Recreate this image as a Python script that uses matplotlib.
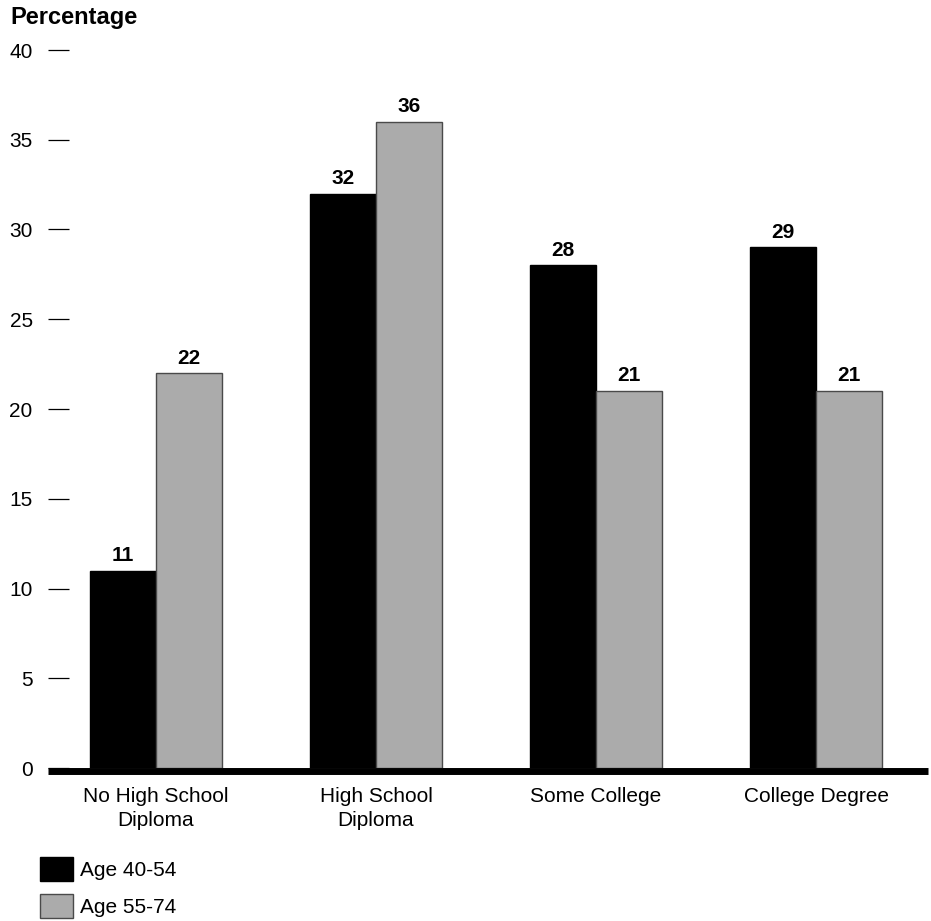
import numpy as np
import matplotlib
matplotlib.use('Agg')
import matplotlib.pyplot as plt
from matplotlib.patches import Patch

plt.rcParams['font.family'] = ['Liberation Sans', 'DejaVu Sans']

categories = ['No High School\nDiploma', 'High School\nDiploma', 'Some College', 'College Degree']
age_40_54 = [11, 32, 28, 29]
age_55_74 = [22, 36, 21, 21]
series_names = ['Age 40-54', 'Age 55-74']
yticks = [0, 5, 10, 15, 20, 25, 30, 35, 40]

W, H = 931, 921
fig = plt.figure(figsize=(W / 100, H / 100), dpi=100)
ax = fig.add_axes([48 / W, (H - 768) / H, (928 - 48) / W, (768 - 50) / H])

x = np.arange(len(categories))
bw = 0.3
b1 = ax.bar(x - bw / 2, age_40_54, bw, color='black', edgecolor='black', linewidth=1)
b2 = ax.bar(x + bw / 2, age_55_74, bw, color='#ababab', edgecolor='#4a4a4a', linewidth=1)

for bars in (b1, b2):
    for r in bars:
        ax.annotate(f'{r.get_height():.0f}', (r.get_x() + r.get_width() / 2, r.get_height()),
                    xytext=(0, 4), textcoords='offset points', ha='center', va='bottom',
                    fontsize=15, fontweight='bold')

ax.set_xlim(-0.491, 3.509)
ax.set_ylim(0, 40)
ax.set_yticks(yticks)
ax.set_xticks(x)
ax.set_xticklabels([])
ax.tick_params(axis='y', direction='in', length=15, width=0.9, pad=11, labelsize=15)
ax.tick_params(axis='x', length=0)

# category labels (drawn as text to control line spacing)
for xi, cat in zip(x, categories):
    ax.annotate(cat, (xi, 0), xycoords=('data', 'axes fraction'), xytext=(0, -13.5),
                textcoords='offset points', ha='center', va='top', fontsize=15,
                linespacing=1.32, annotation_clip=False)

for s in ('left', 'right', 'top'):
    ax.spines[s].set_visible(False)
ax.spines['bottom'].set_linewidth(5)
ax.spines['bottom'].set_position(('outward', 2.5))
ax.spines['bottom'].set_capstyle('butt')

fig.text(10 / W, 1 - 6 / H, 'Percentage', fontsize=17, fontweight='bold', ha='left', va='top')

handles = [Patch(facecolor='black', edgecolor='black'),
           Patch(facecolor='#ababab', edgecolor='#4a4a4a')]
fig.legend(handles, series_names, loc='upper left', bbox_to_anchor=(40 / W, 1 - 857 / H),
           frameon=False, fontsize=15, borderpad=0, borderaxespad=0,
           handlelength=1.6, handleheight=1.2 * 25 / 21, handletextpad=0.3, labelspacing=0.6)

plt.savefig('out.png', dpi=100)
